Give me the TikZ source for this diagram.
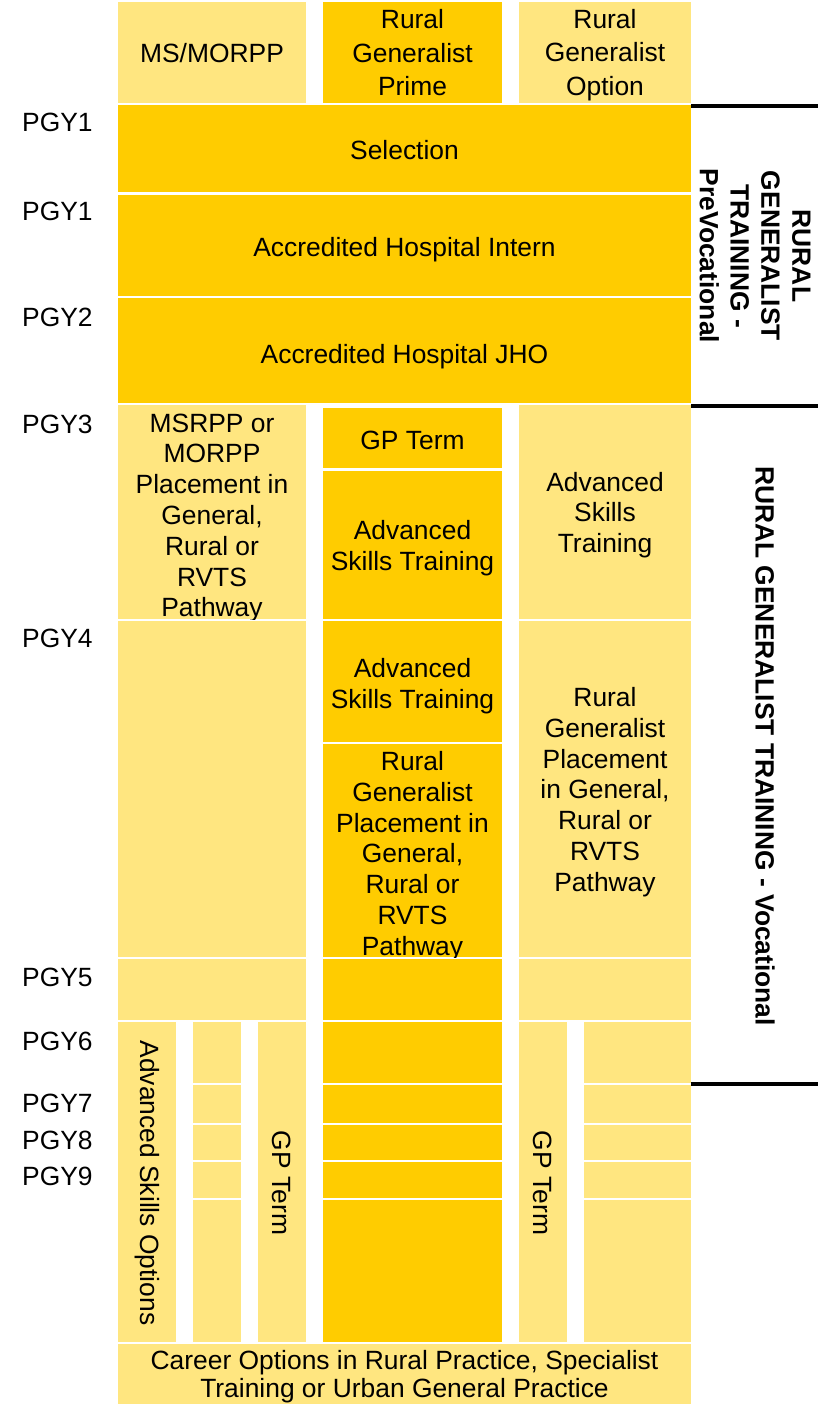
\documentclass[tikz,border=0pt]{standalone}
\usepackage{fontspec}
\setmainfont{Liberation Sans}
\definecolor{rgdark}{HTML}{FFCC00}
\definecolor{rgpale}{HTML}{FFE680}
\newcommand\cellfont{\fontsize{26.4}{30.8}\selectfont}
\newcommand\headfont{\fontsize{26.4}{33.5}\selectfont}
\newcommand\narrowfont{\fontsize{26.4}{28}\selectfont}

\begin{document}
\begin{tikzpicture}[x=1pt,y=-1pt,
  dark/.style={fill=rgdark},
  pale/.style={fill=rgpale},
  lbl/.style={font=\cellfont,align=center,inner sep=0pt,text=black},
  head/.style={font=\headfont,align=center,inner sep=0pt,text=black},
  year/.style={font=\cellfont,anchor=west,inner sep=0pt,text=black},
  upright/.style={font=\cellfont,rotate=-90,inner sep=0pt,text=black},
  side/.style={font=\cellfont\bfseries,align=center,rotate=-90,inner sep=0pt,text=black},
  rule/.style={line width=4pt,black}]
\useasboundingbox (0,0) rectangle (818,1404);

% ---- column headers
\fill[pale] (118,2) rectangle (306,103);
\fill[dark] (323,2) rectangle (502,103);
\fill[pale] (519,2) rectangle (691,103);
\node[head] (msmorpp) at (212,53) {MS/MORPP};
\node[head] (prime)   at (412.5,53) {Rural\\Generalist\\Prime};
\node[head] (option)  at (605,55) {Rural\\Generalist\\Option};

% ---- prevocational bands
\fill[dark] (118,105) rectangle (691,192);
\fill[dark] (118,195) rectangle (691,296);
\fill[dark] (118,298) rectangle (691,403);
\node[lbl] (selection) at (404.5,150) {Selection};
\node[lbl] (intern)    at (404.5,249.5) {Accredited Hospital Intern};
\node[lbl] (jho)       at (404.5,357) {Accredited Hospital JHO};

% ---- PGY3 row
\fill[pale] (118,405) rectangle (306,619);
\fill[dark] (323,408) rectangle (502,468);
\fill[dark] (323,471) rectangle (502,619);
\fill[pale] (519,405) rectangle (691,619);
\begin{scope}
  \clip (118,405) rectangle (306,619);
  \node[lbl] (msrpp) at (212,518)
    {MSRPP or\\MORPP\\Placement in\\General,\\Rural or\\RVTS\\Pathway};
\end{scope}
\node[lbl] (gpterm)  at (412.5,440) {GP Term};
\node[lbl] (astmidA) at (412.5,548.5) {Advanced\\Skills Training};
\node[lbl] (astright) at (605,515) {Advanced\\Skills\\Training};

% ---- PGY4 row
\fill[pale] (118,621) rectangle (306,957);
\fill[dark] (323,621) rectangle (502,742);
\fill[dark] (323,744) rectangle (502,957);
\fill[pale] (519,621) rectangle (691,957);
\node[lbl] (astmidB) at (412.5,686) {Advanced\\Skills Training};
\begin{scope}
  \clip (323,744) rectangle (502,957);
  \node[lbl] (rgpmid) at (412.5,856)
    {Rural\\Generalist\\Placement in\\General,\\Rural or\\RVTS\\Pathway};
\end{scope}
\node[lbl] (rgpright) at (605,792)
  {Rural\\Generalist\\Placement\\in General,\\Rural or\\RVTS\\Pathway};

% ---- PGY5 row
\fill[pale] (118,959) rectangle (306,1020);
\fill[dark] (323,959) rectangle (502,1020);
\fill[pale] (519,959) rectangle (691,1020);

% ---- PGY6 to PGY9 and beyond
\fill[pale] (118,1022) rectangle (176,1342);
\fill[pale] (258,1022) rectangle (306,1342);
\fill[pale] (519,1022) rectangle (567,1342);
\foreach \ya/\yb in {1022/1083,1085/1123,1125/1160,1162/1198,1200/1342}{
  \fill[pale] (193,\ya) rectangle (241,\yb);
  \fill[dark] (323,\ya) rectangle (502,\yb);
  \fill[pale] (584,\ya) rectangle (691,\yb);
}
\node[upright] (aso)     at (147,1183) {Advanced Skills Options};
\node[upright] (gpleft)  at (282,1183) {GP Term};
\node[upright] (gpright) at (543,1183) {GP Term};

% ---- career outcome
\fill[pale] (118,1344) rectangle (691,1404);
\node[lbl,font=\narrowfont] (career) at (404.5,1377)
  {Career Options in Rural Practice, Specialist\\Training or Urban General Practice};

% ---- training year labels
\foreach \nm/\t/\yy in {y1a/PGY1/122,y1b/PGY1/211,y2/PGY2/317,y3/PGY3/424,
                        y4/PGY4/638,y5/PGY5/977,y6/PGY6/1041,y7/PGY7/1103,
                        y8/PGY8/1140,y9/PGY9/1176}{
  \node[year] (\nm) at (22,\yy) {\t};
}

% ---- phase dividers and phase titles
\draw[rule] (691,106) -- (818,106);
\draw[rule] (691,406) -- (818,406);
\draw[rule] (691,1084) -- (818,1084);
\node[side] (prevoc) at (755,256)
  {RURAL\\GENERALIST\\TRAINING -\\PreVocational};
\node[side] (voc) at (765,746) {RURAL GENERALIST TRAINING - Vocational};
\end{tikzpicture}
\end{document}
